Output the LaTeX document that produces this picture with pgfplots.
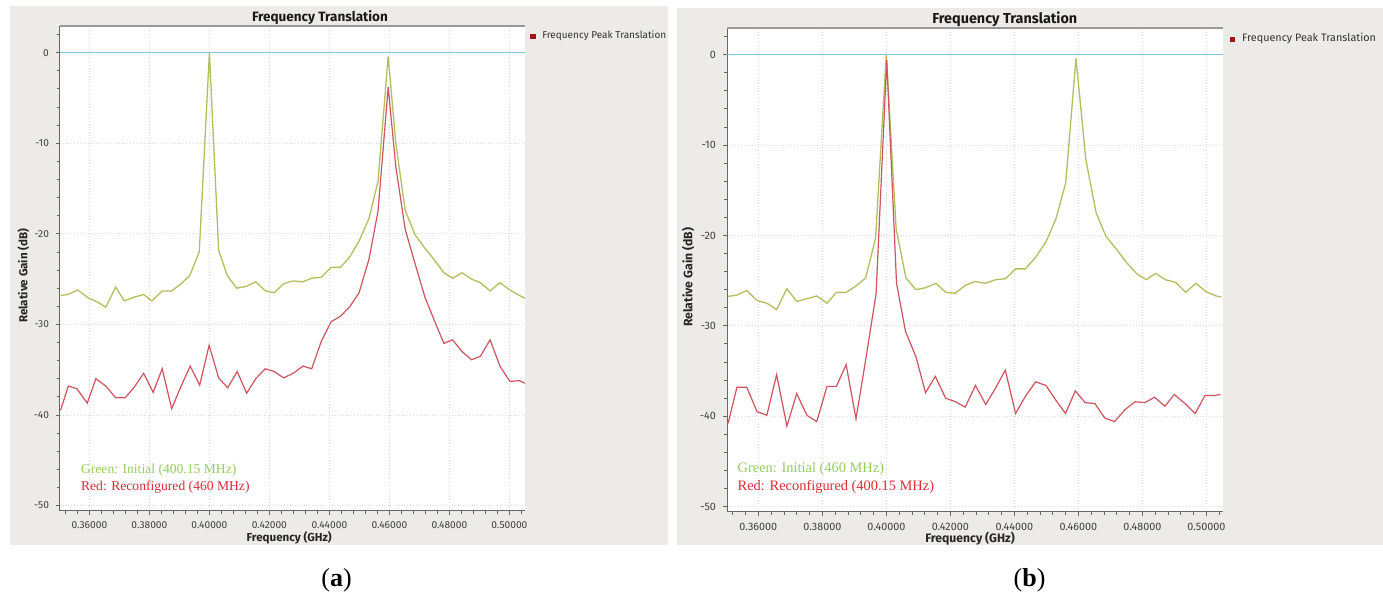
\documentclass[border=0pt]{standalone}
\usepackage{fontspec}
\setmainfont{Liberation Serif}
\newfontfamily\uif{Fira Sans}
\usepackage{pgfplots}
\usepackage{pgfplotstable}
\pgfplotsset{compat=1.18}

\definecolor{bgg}{RGB}{237,235,232}
\definecolor{cyanz}{RGB}{120,205,212}
\definecolor{greenl}{RGB}{180,190,95}
\definecolor{redl}{RGB}{206,84,94}
\definecolor{peakred}{RGB}{165,20,20}
\definecolor{anngreen}{RGB}{150,205,95}
\definecolor{annred}{RGB}{215,45,55}

\pgfplotstableread{
x y
0.35038 -26.8
0.35282 -26.7
0.35612 -26.2
0.35971 -27.1
0.36258 -27.5
0.36546 -28.1
0.36876 -25.9
0.37163 -27.4
0.37479 -27.0
0.37809 -26.7
0.38082 -27.4
0.38427 -26.3
0.38743 -26.3
0.39059 -25.5
0.39346 -24.6
0.39662 -22.0
0.40000 0.0
0.40308 -21.8
0.40595 -24.6
0.40911 -26.0
0.41227 -25.8
0.41543 -25.3
0.41873 -26.3
0.42160 -26.5
0.42476 -25.5
0.42792 -25.2
0.43108 -25.3
0.43410 -24.9
0.43726 -24.8
0.44056 -23.7
0.44372 -23.7
0.44688 -22.5
0.44989 -20.8
0.45320 -18.3
0.45621 -14.2
0.45960 -0.4
0.46210 -9.9
0.46526 -17.4
0.46856 -20.1
0.47186 -21.6
0.47502 -22.9
0.47818 -24.3
0.48105 -24.9
0.48421 -24.3
0.48737 -25.0
0.49039 -25.4
0.49355 -26.3
0.49685 -25.4
0.50015 -26.2
0.50331 -26.8
0.50520 -27.1
}\greenA

\pgfplotstableread{
x y
0.35038 -39.5
0.35296 -36.8
0.35583 -37.1
0.35928 -38.7
0.36215 -36.0
0.36546 -36.8
0.36876 -38.1
0.37192 -38.1
0.37479 -37.0
0.37809 -35.4
0.38125 -37.5
0.38427 -34.9
0.38743 -39.3
0.39059 -36.8
0.39361 -34.6
0.39676 -36.7
0.39992 -32.3
0.40308 -35.9
0.40610 -37.0
0.40926 -35.2
0.41241 -37.6
0.41543 -36.0
0.41859 -34.9
0.42160 -35.2
0.42476 -35.9
0.42792 -35.4
0.43122 -34.6
0.43410 -34.9
0.43726 -31.9
0.44056 -29.7
0.44372 -29.1
0.44688 -28.0
0.44989 -26.5
0.45320 -22.8
0.45621 -17.5
0.45960 -3.8
0.46210 -12.5
0.46526 -19.5
0.46856 -23.3
0.47186 -27.0
0.47502 -29.6
0.47818 -32.1
0.48105 -31.7
0.48421 -33.0
0.48737 -33.9
0.49039 -33.5
0.49355 -31.7
0.49685 -34.6
0.50015 -36.3
0.50331 -36.2
0.50520 -36.5
}\redA

\pgfplotstableread{
x y
0.35053 -26.75
0.35331 -26.6
0.35638 -26.1
0.35958 -27.2
0.36265 -27.5
0.36571 -28.2
0.36892 -25.9
0.37198 -27.3
0.37518 -27.0
0.37825 -26.7
0.38145 -27.5
0.38438 -26.3
0.38744 -26.3
0.39051 -25.6
0.39355 -24.7
0.39663 -20.3
0.39998 0.0
0.40306 -19.3
0.40613 -24.7
0.40921 -26.0
0.41215 -25.8
0.41550 -25.3
0.41858 -26.3
0.42151 -26.4
0.42473 -25.5
0.42780 -25.1
0.43102 -25.3
0.43409 -24.9
0.43717 -24.8
0.44039 -23.7
0.44346 -23.7
0.44668 -22.4
0.44989 -20.7
0.45297 -18.2
0.45604 -14.2
0.45926 -0.4
0.46233 -11.6
0.46555 -17.5
0.46862 -20.1
0.47184 -21.5
0.47506 -23.0
0.47814 -24.2
0.48121 -24.9
0.48415 -24.2
0.48723 -24.9
0.49044 -25.2
0.49352 -26.3
0.49673 -25.3
0.49981 -26.2
0.50302 -26.7
0.50470 -26.8
}\greenB

\pgfplotstableread{
x y
0.35053 -40.8
0.35331 -36.8
0.35638 -36.8
0.35958 -39.5
0.36265 -39.9
0.36571 -35.4
0.36892 -41.1
0.37198 -37.5
0.37518 -39.9
0.37825 -40.6
0.38145 -36.7
0.38438 -36.7
0.38744 -34.3
0.39051 -40.3
0.39343 -34.0
0.39678 -26.5
0.40012 -0.6
0.40318 -25.3
0.40597 -30.6
0.40931 -33.5
0.41224 -37.4
0.41530 -35.6
0.41851 -38.0
0.42157 -38.4
0.42464 -39.0
0.42784 -36.6
0.43104 -38.7
0.43411 -36.9
0.43717 -34.9
0.44038 -39.7
0.44344 -37.8
0.44664 -36.2
0.44985 -36.6
0.45291 -38.2
0.45598 -39.7
0.45904 -37.2
0.46211 -38.5
0.46517 -38.6
0.46824 -40.2
0.47130 -40.6
0.47450 -39.3
0.47771 -38.4
0.48077 -38.5
0.48384 -37.9
0.48704 -38.9
0.48997 -37.6
0.49331 -38.6
0.49651 -39.7
0.49958 -37.7
0.50264 -37.7
0.50445 -37.6
}\redB

\pgfplotsset{
  gnu/.style={
    scale only axis,
    xmin=0.3502, xmax=0.5052, ymin=-50.6, ymax=2.95,
    axis background/.style={fill=white},
    axis x line*=bottom, axis y line*=left,
    x axis line style={-, draw=black!60, line width=0.5pt},
    y axis line style={-, draw=black!60, line width=0.5pt},
    xtick={0.36,0.38,0.40,0.42,0.44,0.46,0.48,0.50},
    xticklabels={0.36000,0.38000,0.40000,0.42000,0.44000,0.46000,0.48000,0.50000},
    ytick={-50,-40,-30,-20,-10,0},
    yticklabels={-50,-40,-30,-20,-10,0},
    minor xtick={0.352,0.356,0.364,0.368,0.372,0.376,0.384,0.388,0.392,0.396,0.404,0.408,0.412,0.416,0.424,0.428,0.432,0.436,0.444,0.448,0.452,0.456,0.464,0.468,0.472,0.476,0.484,0.488,0.492,0.496,0.504},
    minor ytick={-48,-46,-44,-42,-38,-36,-34,-32,-28,-26,-24,-22,-18,-16,-14,-12,-8,-6,-4,-2,2},
    tick align=outside,
    major tick length=2pt, minor tick length=1.3pt,
    every tick/.style={black!60, line width=0.45pt},
    grid=major,
    major grid style={densely dotted, black!14, line width=0.35pt},
    text=black!75,
    every axis title shift=0pt,
    legend style={draw=none, fill=none, anchor=west, text=black!80,
      inner sep=0pt, outer sep=0pt},
    legend image code/.code={\fill[peakred] (0pt,-1.1pt) rectangle (2.2pt,1.1pt);},
  }
}

\begin{document}
\begin{tikzpicture}
\useasboundingbox (0,0) rectangle (691.5pt,297pt);
\fill[white] (0,0) rectangle (691.5pt,297pt);
\fill[bgg] (4.75pt,24.5pt) rectangle (333.75pt,294pt);
\fill[bgg] (338.35pt,24.5pt) rectangle (691.5pt,292.85pt);

% ---------------- panel (a)
\begin{axis}[gnu,
  at={(30pt,41.5pt)}, anchor=south west,
  width=232.5pt, height=242.5pt,
  tick label style={font=\uif\fontsize{5.1}{5.1}\selectfont, text=black!75},
  label style={font=\uif\bfseries\fontsize{5.8}{5.8}\selectfont, text=black!85},
  title style={font=\uif\bfseries\fontsize{6.75}{6.75}\selectfont, text=black!90},
  title={Frequency Translation},
  title style={at={(axis description cs:0.559,1)}, anchor=center, yshift=4pt, inner sep=0pt},
  xlabel={Frequency (GHz)},
  xlabel style={at={(axis description cs:0.493,0)}, anchor=center, yshift=-13.2pt},
  ylabel={Relative Gain (dB)},
  ylabel style={at={(axis description cs:-0.079,0.485)}, anchor=center},
  legend style={at={(axis description cs:1.011,0.979)}, font=\uif\fontsize{5.0}{5.0}\selectfont},
]
\addplot[draw=cyanz, line width=0.65pt, forget plot] coordinates {(0.3502,0) (0.5052,0)};
\addplot[greenl, line width=0.65pt, forget plot] table {\greenA};
\addplot[redl, line width=0.6pt, forget plot] table {\redA};
\draw[black!40, line width=0.7pt] (rel axis cs:0,1) -- (rel axis cs:1,1);
\addlegendimage{peakred}
\addlegendentry{\hspace{1.5pt}Frequency Peak Translation}
\node[anchor=west, inner sep=0pt, text=anngreen, font=\fontsize{6.8}{6.8}\selectfont]
  at (axis description cs:0.0445,0.0831) {Green: Initial (400.15 MHz)};
\node[anchor=west, inner sep=0pt, text=annred, font=\fontsize{6.8}{6.8}\selectfont]
  at (axis description cs:0.0445,0.0489) {Red: Reconfigured (460 MHz)};
\end{axis}

% ---------------- panel (b)
\begin{axis}[gnu,
  at={(363.5pt,41pt)}, anchor=south west,
  width=248pt, height=242pt,
  tick label style={font=\uif\fontsize{5.4}{5.4}\selectfont, text=black!75},
  label style={font=\uif\bfseries\fontsize{6.1}{6.1}\selectfont, text=black!85},
  title style={font=\uif\bfseries\fontsize{7.2}{7.2}\selectfont, text=black!90},
  title={Frequency Translation},
  title style={at={(axis description cs:0.56,1)}, anchor=center, yshift=4.5pt, inner sep=0pt},
  xlabel={Frequency (GHz)},
  xlabel style={at={(axis description cs:0.490,0)}, anchor=center, yshift=-13.4pt},
  ylabel={Relative Gain (dB)},
  ylabel style={at={(axis description cs:-0.0786,0.485)}, anchor=center},
  legend style={at={(axis description cs:1.014,0.977)}, font=\uif\fontsize{5.4}{5.4}\selectfont},
]
\addplot[draw=cyanz, line width=0.65pt, forget plot] coordinates {(0.3502,0) (0.5052,0)};
\addplot[greenl, line width=0.65pt, forget plot] table {\greenB};
\addplot[redl, line width=0.6pt, forget plot] table {\redB};
\draw[black!40, line width=0.7pt] (rel axis cs:0,1) -- (rel axis cs:1,1);
\addlegendimage{peakred}
\addlegendentry{\hspace{1.5pt}Frequency Peak Translation}
\node[anchor=west, inner sep=0pt, text=anngreen, font=\fontsize{7.2}{7.2}\selectfont]
  at (axis description cs:0.0208,0.0882) {Green: Initial (460 MHz)};
\node[anchor=west, inner sep=0pt, text=annred, font=\fontsize{7.2}{7.2}\selectfont]
  at (axis description cs:0.0208,0.0523) {Red: Reconfigured (400.15 MHz)};
\end{axis}

\node[font=\fontsize{13}{13}\selectfont] at (168.3pt,7pt) {(\textbf{a})};
\node[font=\fontsize{13}{13}\selectfont] at (514.8pt,7pt) {(\textbf{b})};
\end{tikzpicture}
\end{document}
